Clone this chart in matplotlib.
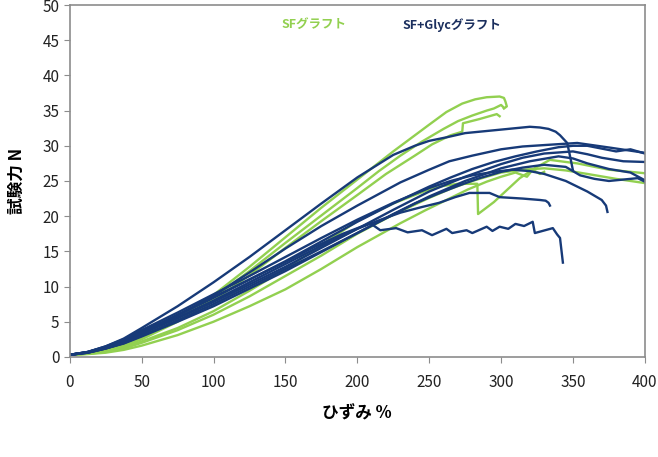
import matplotlib.pyplot as plt

plt.rcParams['font.family'] = ['Noto Sans CJK JP', 'DejaVu Sans']

# SFグラフト (green)
g1_x = [0, 12.5, 25, 37.5, 50, 75, 100, 125, 150, 175, 200, 225, 250, 262, 273, 282, 290, 299, 302, 303, 304, 302]
g1_y = [0.3, 0.55, 1.0, 1.75, 2.8, 5.5, 8.8, 12.8, 17.0, 21.2, 25.2, 29.2, 33.0, 34.8, 36.0, 36.6, 36.9, 37.0, 36.8, 36.3, 35.6, 35.3]
g2_x = [0, 12.5, 25, 37.5, 50, 75, 100, 125, 150, 175, 200, 215, 230, 245, 260, 270, 280, 290, 295, 300, 302]
g2_y = [0.3, 0.5, 0.9, 1.6, 2.6, 5.2, 8.4, 12.2, 16.2, 20.1, 24.0, 26.4, 28.6, 30.6, 32.4, 33.5, 34.3, 35.0, 35.3, 35.8, 35.4]
g3_x = [0, 12.5, 25, 37.5, 50, 75, 100, 125, 150, 175, 200, 220, 240, 252, 265, 273, 273.5, 285, 297, 299]
g3_y = [0.3, 0.5, 0.9, 1.55, 2.5, 5.0, 8.0, 11.6, 15.5, 19.3, 23.0, 26.0, 28.6, 30.2, 31.5, 32.0, 33.2, 33.8, 34.5, 34.2]
g4_x = [0, 12.5, 25, 37.5, 50, 75, 100, 125, 150, 175, 200, 225, 250, 260, 270, 283.5, 284, 295, 313, 325, 334, 345, 353, 375, 400]
g4_y = [0.3, 0.48, 0.8, 1.4, 2.2, 4.1, 6.5, 9.4, 12.5, 15.9, 19.3, 21.8, 23.8, 24.3, 24.6, 24.6, 20.3, 22.0, 25.4, 27.0, 28.0, 27.7, 27.5, 26.6, 26.1]
g5_x = [0, 12.5, 25, 37.5, 50, 75, 100, 125, 150, 175, 200, 225, 250, 265, 280, 300, 315, 330, 345, 360, 380, 400]
g5_y = [0.3, 0.44, 0.7, 1.2, 2.0, 3.8, 6.0, 8.6, 11.5, 14.4, 17.5, 20.2, 22.6, 23.9, 25.0, 26.2, 26.6, 26.8, 26.5, 26.0, 25.3, 24.7]
g6_x = [0, 12.5, 25, 37.5, 50, 75, 100, 125, 150, 175, 200, 215, 230, 247, 264, 277, 290, 300, 310, 318, 322, 327, 330]
g6_y = [0.3, 0.4, 0.6, 1.0, 1.6, 3.1, 5.0, 7.2, 9.6, 12.5, 15.6, 17.3, 19.0, 20.8, 22.5, 23.8, 24.9, 25.6, 26.2, 25.6, 26.6, 26.0, 26.3]

# SF+Glycグラフト (navy)
b1_x = [0, 12.5, 25, 37.5, 50, 75, 100, 125, 150, 175, 200, 225, 240, 250, 262, 275, 290, 300, 310, 320, 327, 333, 338, 341, 346, 348, 350]
b1_y = [0.3, 0.7, 1.5, 2.6, 4.1, 7.2, 10.6, 14.2, 18.0, 21.8, 25.5, 28.7, 30.0, 30.7, 31.2, 31.8, 32.1, 32.3, 32.5, 32.7, 32.6, 32.4, 32.0, 31.5, 30.4, 28.5, 26.5]
b2_x = [0, 12.5, 25, 37.5, 50, 75, 100, 125, 150, 175, 200, 230, 250, 264, 280, 300, 315, 330, 353, 377, 400]
b2_y = [0.3, 0.6, 1.2, 2.0, 3.2, 5.9, 8.7, 12.0, 15.4, 18.6, 21.5, 24.8, 26.6, 27.8, 28.6, 29.5, 29.9, 30.1, 30.4, 29.7, 29.0]
b3_x = [0, 12.5, 25, 37.5, 50, 75, 100, 125, 150, 175, 200, 225, 250, 265, 280, 295, 310, 325, 340, 350, 360, 370, 380, 390, 400]
b3_y = [0.3, 0.7, 1.4, 2.3, 3.6, 5.9, 8.4, 11.0, 13.6, 16.4, 19.2, 21.8, 24.2, 25.5, 26.7, 27.7, 28.5, 29.2, 29.8, 30.0, 30.0, 29.6, 29.2, 29.5, 28.9]
b4_x = [0, 12.5, 25, 37.5, 50, 75, 100, 125, 150, 175, 200, 225, 250, 275, 300, 315, 330, 350, 360, 370, 385, 400]
b4_y = [0.3, 0.65, 1.3, 2.1, 3.3, 5.5, 7.8, 10.3, 12.8, 15.5, 18.2, 20.9, 23.5, 25.6, 27.4, 28.3, 28.9, 29.2, 28.8, 28.3, 27.8, 27.7]
b5_x = [0, 12.5, 25, 37.5, 50, 75, 100, 125, 150, 175, 200, 225, 250, 275, 300, 320, 340, 350, 360, 375, 390, 400]
b5_y = [0.3, 0.6, 1.2, 1.9, 2.9, 5.0, 7.2, 9.7, 12.2, 14.9, 17.6, 20.3, 22.8, 25.0, 26.8, 27.8, 28.5, 28.2, 27.5, 26.7, 26.2, 25.1]
b6_x = [0, 12.5, 25, 37.5, 50, 75, 100, 125, 150, 175, 200, 220, 240, 255, 270, 285, 300, 315, 330, 345, 355, 365, 375, 385, 395, 400]
b6_y = [0.3, 0.6, 1.2, 1.95, 3.0, 5.2, 7.5, 10.0, 12.5, 15.0, 17.6, 19.7, 21.8, 23.1, 24.3, 25.4, 26.3, 26.9, 27.3, 27.0, 25.8, 25.3, 25.0, 25.2, 25.4, 24.9]
b7_x = [0, 12.5, 25, 37.5, 50, 75, 100, 125, 150, 175, 200, 225, 250, 265, 280, 295, 308, 320, 330, 345, 360, 370, 373, 374]
b7_y = [0.3, 0.7, 1.5, 2.5, 3.8, 6.3, 8.9, 11.5, 14.2, 16.9, 19.5, 21.9, 24.0, 25.0, 25.8, 26.3, 26.6, 26.4, 26.0, 25.0, 23.5, 22.3, 21.5, 20.6]
b8_x = [0, 12.5, 25, 37.5, 50, 75, 100, 125, 150, 175, 200, 215, 230, 245, 257, 268, 278, 292, 299, 315, 327, 331, 333, 334]
b8_y = [0.3, 0.65, 1.3, 2.2, 3.4, 5.6, 8.0, 10.6, 13.2, 15.8, 18.2, 19.4, 20.5, 21.3, 21.9, 22.7, 23.3, 23.3, 22.7, 22.5, 22.3, 22.2, 21.9, 21.5]
b9_x = [0, 12.5, 25, 37.5, 50, 75, 100, 125, 150, 170, 190, 209, 216, 227, 235, 245, 252, 262, 266, 276, 280,
        290, 294, 299, 305, 310, 316, 322, 323.5, 336, 339, 341, 343]
b9_y = [0.3, 0.7, 1.4, 2.3, 3.5, 6.0, 8.5, 11.0, 13.5, 15.6, 17.5, 19.0, 18.0, 18.3, 17.7, 18.0, 17.3, 18.2, 17.6, 18.0, 17.6,
        18.5, 17.9, 18.5, 18.2, 18.9, 18.6, 19.2, 17.6, 18.3, 17.4, 16.9, 13.4]

green = '#92D050'
navy = '#173a78'

greens = [(g1_x, g1_y), (g2_x, g2_y), (g3_x, g3_y), (g4_x, g4_y), (g5_x, g5_y), (g6_x, g6_y)]
blues = [(b1_x, b1_y), (b2_x, b2_y), (b3_x, b3_y), (b4_x, b4_y), (b5_x, b5_y),
         (b6_x, b6_y), (b7_x, b7_y), (b8_x, b8_y), (b9_x, b9_y)]

fig = plt.figure(figsize=(6.58, 4.57), dpi=100)
ax = fig.add_axes([0.106, 0.219, 0.874, 0.770])

for x, y in greens:
    ax.plot(x, y, color=green, lw=1.7)
for x, y in blues:
    ax.plot(x, y, color=navy, lw=1.7)

ax.set_xlim(0, 400)
ax.set_ylim(0, 50)
ax.set_xticks(range(0, 401, 50))
ax.set_yticks(range(0, 51, 5))
for s in ax.spines.values():
    s.set_color('#8c8c8c')
    s.set_linewidth(1.2)
ax.tick_params(axis='both', colors='#8c8c8c', labelcolor='#222222', labelsize=11, length=4)
ax.tick_params(axis='x', pad=8)

ax.set_xlabel('ひずみ %', fontsize=12, fontweight='bold', labelpad=10)
ax.set_ylabel('試験力 N', fontsize=12, fontweight='bold', labelpad=12)

ax.text(170, 47.2, 'SFグラフト', color=green, fontsize=9, fontweight='bold', ha='center', va='center')
ax.text(266, 47.2, 'SF+Glycグラフト', color='#1b2f5e', fontsize=9, fontweight='bold', ha='center', va='center')

fig.savefig('out.png', dpi=100)
